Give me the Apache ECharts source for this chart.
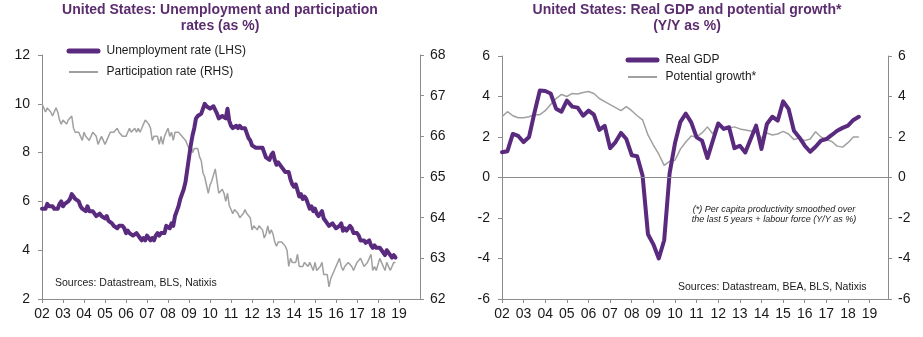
<!DOCTYPE html>
<html><head><meta charset="utf-8">
<script src="https://cdn.jsdelivr.net/npm/echarts@6/dist/echarts.min.js"></script>
<style>html,body{margin:0;padding:0;background:#fff}#c{width:923px;height:337px}</style>
</head><body><div id="c"></div>
<script>
const startYear = 2002;
const yearLabels = ['02','03','04','05','06','07','08','09','10','11','12','13','14','15','16','17','18','19'];

// Monthly, from Jan 2002
const unemployment = [
5.7,5.7,5.7,5.9,5.8,5.8,5.8,5.7,5.7,5.7,5.9,6.0,
5.8,5.9,5.9,6.0,6.1,6.3,6.2,6.1,6.1,6.0,5.8,5.7,
5.7,5.6,5.8,5.6,5.6,5.6,5.5,5.4,5.4,5.5,5.4,5.4,
5.3,5.4,5.2,5.2,5.1,5.0,5.0,4.9,5.0,5.0,5.0,4.9,
4.7,4.8,4.7,4.7,4.6,4.6,4.7,4.7,4.5,4.4,4.5,4.4,
4.6,4.5,4.4,4.5,4.4,4.6,4.7,4.6,4.7,4.7,4.7,5.0,
5.0,4.9,5.1,5.0,5.4,5.6,5.8,6.1,6.1,6.5,6.8,7.3,
7.8,8.3,8.7,9.0,9.4,9.5,9.5,9.6,9.8,10.0,9.9,9.9,
9.8,9.8,9.9,9.9,9.6,9.4,9.4,9.5,9.5,9.4,9.8,9.3,
9.1,9.0,9.0,9.1,9.0,9.1,9.0,9.0,9.0,8.8,8.6,8.5,
8.3,8.3,8.2,8.2,8.2,8.2,8.2,8.0,7.8,7.8,7.7,7.9,
8.0,7.7,7.5,7.6,7.5,7.5,7.3,7.2,7.2,7.2,6.9,6.7,
6.6,6.7,6.7,6.2,6.3,6.1,6.2,6.1,5.9,5.7,5.8,5.6,
5.7,5.5,5.4,5.4,5.6,5.3,5.2,5.1,5.0,5.0,5.1,5.0,
4.9,4.9,5.0,5.1,4.8,4.9,4.8,4.9,5.0,4.9,4.7,4.7,
4.7,4.6,4.4,4.4,4.4,4.3,4.3,4.4,4.2,4.1,4.2,4.1,
4.1,4.1,4.0,4.0,3.8,4.0,3.9,3.8,3.7,3.8,3.7
];
const participation = [
66.8,66.8,66.6,66.7,66.7,66.6,66.5,66.6,66.7,66.6,66.4,66.3,
66.4,66.4,66.3,66.4,66.4,66.5,66.2,66.1,66.1,66.1,66.1,65.9,
66.1,66.0,66.0,65.9,65.9,66.1,66.1,66.0,65.8,65.9,66.0,65.9,
65.8,65.9,65.9,66.1,66.1,66.1,66.1,66.2,66.1,66.1,66.0,66.0,
66.0,66.1,66.2,66.1,66.1,66.2,66.1,66.2,66.1,66.2,66.3,66.4,
66.4,66.3,66.2,65.9,66.0,66.0,66.0,65.8,66.0,65.8,66.0,66.0,
66.2,66.0,66.1,65.9,66.1,66.1,66.1,66.1,66.0,66.0,65.9,65.8,
65.7,65.8,65.6,65.7,65.7,65.7,65.5,65.4,65.1,65.0,65.0,64.6,
64.8,64.9,64.9,65.2,64.9,64.6,64.6,64.7,64.6,64.4,64.6,64.3,
64.2,64.1,64.2,64.2,64.1,64.0,64.0,64.1,64.2,64.1,64.1,64.0,
63.7,63.8,63.8,63.7,63.8,63.8,63.7,63.5,63.6,63.8,63.6,63.7,
63.6,63.4,63.3,63.4,63.4,63.4,63.4,63.3,63.2,62.8,63.0,62.9,
62.9,62.9,63.1,62.8,62.8,62.8,62.9,62.9,62.8,62.9,62.8,62.7,
62.9,62.7,62.7,62.8,62.9,62.6,62.6,62.6,62.3,62.5,62.5,62.7,
62.7,62.9,63.0,62.8,62.7,62.8,62.8,62.9,62.9,62.8,62.7,62.7,
62.9,62.9,63.0,62.9,62.8,62.8,62.9,62.9,63.1,62.7,62.8,62.7,
62.7,63.0,62.9,62.8,62.7,62.9,62.9,62.7,62.7,62.9,62.9
];

// Quarterly, from 2002Q1
const realGDP = [
1.25,1.3,2.15,2.05,
1.75,2.0,3.2,4.3,
4.27,4.15,3.4,3.25,
3.8,3.5,3.45,3.05,
3.3,3.1,2.35,2.55,
1.45,1.75,2.2,1.9,
1.1,1.05,0.1,-2.8,
-3.3,-4.0,-3.1,0.2,
1.7,2.75,3.15,2.72,
1.98,1.82,0.96,1.82,
2.67,2.40,2.48,1.45,
1.57,1.24,1.9,2.56,
1.41,2.64,3.0,2.81,
3.76,3.39,2.31,1.98,
1.57,1.27,1.52,1.82,
1.90,2.10,2.31,2.45,
2.56,2.84,3.0
];
const potentialGrowth = [
3.0,3.25,3.05,2.95,
2.95,3.0,3.1,3.1,
3.3,3.6,3.9,4.1,
4.0,4.15,4.12,4.2,
4.25,4.15,3.9,3.75,
3.6,3.45,3.3,3.5,
3.3,3.05,2.85,2.1,
1.6,1.15,0.6,0.8,
0.85,1.4,1.75,2.05,
2.0,2.2,2.5,2.15,
2.7,2.45,2.45,2.5,
2.4,2.35,2.3,2.25,
1.95,2.2,2.1,2.15,
2.28,2.15,1.87,1.95,
1.82,1.9,2.26,2.0,
1.87,1.78,1.55,1.5,
1.72,2.0,2.0
];

const monthly = arr => arr.map((v, i) => [startYear + i / 12, v]);
const quarterly = arr => arr.map((v, i) => [startYear + i / 4, v]);

const FONT = 'Liberation Sans, Arial, sans-serif';
const PURPLE = '#5a2a7f';
const GRAY = '#a0a0a0';
const AXIS = '#8c8c8c';
const TITLE = '#5b2d6e';

function xAxis(gridIndex, max) {
  return {
    type: 'value', gridIndex, min: startYear, max, interval: 1,
    axisLine: { show: true, onZero: false, lineStyle: { color: AXIS, width: 1 } },
    axisTick: { show: true, length: 4, inside: false, lineStyle: { color: AXIS } },
    splitLine: { show: false },
    axisLabel: {
      show: true, margin: 8, color: '#1a1a1a', fontSize: 14, fontFamily: FONT,
      showMaxLabel: false,
      formatter: v => { const k = Math.round(v - startYear); return (Math.abs(v - startYear - k) < 1e-6 && yearLabels[k]) ? yearLabels[k] : ''; }
    }
  };
}
function yAxis(gridIndex, position, min, max, interval, margin) {
  return {
    type: 'value', gridIndex, position, min, max, interval,
    axisLine: { show: true, onZero: false, lineStyle: { color: AXIS, width: 1 } },
    axisTick: { show: true, length: 4, inside: false, lineStyle: { color: AXIS } },
    splitLine: { show: false },
    axisLabel: { show: true, margin, color: '#1a1a1a', fontSize: 14, fontFamily: FONT }
  };
}

function legendItem(x, y, color, width, label) {
  return [
    { type: 'line', shape: { x1: x + 2.5, y1: y, x2: x + 31.5, y2: y }, style: { stroke: color, lineWidth: width, lineCap: width > 3 ? 'round' : 'butt' } },
    { type: 'text', x: x + 40, y: y, style: { text: label, align: 'left', verticalAlign: 'middle', fill: '#1a1a1a', font: '12px ' + FONT } }
  ];
}

const chart = echarts.init(document.getElementById('c'), null, { renderer: 'canvas' });
chart.setOption({
  animation: false,
  backgroundColor: '#ffffff',
  grid: [
    { left: 42, top: 55, width: 378, height: 244, containLabel: false, outerBoundsMode: 'none' },
    { left: 502, top: 56, width: 386, height: 243, containLabel: false, outerBoundsMode: 'none' }
  ],
  xAxis: [xAxis(0, 2020), xAxis(1, 2019.85)],
  yAxis: [
    yAxis(0, 'left', 2, 12, 2, 12),
    yAxis(0, 'right', 62, 68, 1, 10),
    yAxis(1, 'left', -6, 6, 2, 12),
    yAxis(1, 'right', -6, 6, 2, 10)
  ],
  series: [
    {
      name: 'Participation rate (RHS)', type: 'line', xAxisIndex: 0, yAxisIndex: 1,
      data: monthly(participation), symbol: 'none', showSymbol: false, z: 2,
      lineStyle: { color: GRAY, width: 1.5 }, itemStyle: { color: GRAY }
    },
    {
      name: 'Unemployment rate (LHS)', type: 'line', xAxisIndex: 0, yAxisIndex: 0,
      data: monthly(unemployment), symbol: 'none', showSymbol: false, z: 3,
      lineStyle: { color: PURPLE, width: 4, join: 'round', cap: 'round' }, itemStyle: { color: PURPLE }
    },
    {
      name: 'Potential growth*', type: 'line', xAxisIndex: 1, yAxisIndex: 2,
      data: quarterly(potentialGrowth), symbol: 'none', showSymbol: false, z: 2,
      lineStyle: { color: GRAY, width: 1.5 }, itemStyle: { color: GRAY },
      markLine: {
        silent: true, symbol: ['none', 'none'], label: { show: false },
        lineStyle: { color: AXIS, width: 1, type: 'solid' },
        data: [{ yAxis: 0 }]
      }
    },
    {
      name: 'Real GDP', type: 'line', xAxisIndex: 1, yAxisIndex: 2,
      data: quarterly(realGDP), symbol: 'none', showSymbol: false, z: 3,
      lineStyle: { color: PURPLE, width: 4, join: 'round', cap: 'round' }, itemStyle: { color: PURPLE }
    }
  ],
  graphic: [
    { type: 'text', x: 220, y: 2, style: { text: 'United States: Unemployment and participation\nrates (as %)', align: 'center', verticalAlign: 'top', fill: TITLE, font: 'bold 14px ' + FONT, lineHeight: 16 } },
    { type: 'text', x: 687, y: 2, style: { text: 'United States: Real GDP and potential growth*\n(Y/Y as %)', align: 'center', verticalAlign: 'top', fill: TITLE, font: 'bold 14px ' + FONT, lineHeight: 16 } },
    ...legendItem(66.5, 51, PURPLE, 5, 'Unemployment rate (LHS)'),
    ...legendItem(66.5, 72, GRAY, 2, 'Participation rate (RHS)'),
    ...legendItem(625.5, 60, PURPLE, 5, 'Real GDP'),
    ...legendItem(625.5, 77, GRAY, 2, 'Potential growth*'),
    { type: 'text', x: 55, y: 283, style: { text: 'Sources: Datastream, BLS, Natixis', align: 'left', verticalAlign: 'middle', fill: '#1a1a1a', font: '10.5px ' + FONT } },
    { type: 'text', x: 678, y: 287, style: { text: 'Sources: Datastream, BEA, BLS, Natixis', align: 'left', verticalAlign: 'middle', fill: '#1a1a1a', font: '10.5px ' + FONT } },
    { type: 'text', x: 774, y: 204, style: { text: '(*) Per capita productivity smoothed over\nthe last 5 years + labour force (Y/Y as %)', align: 'center', verticalAlign: 'top', fill: '#1a1a1a', font: 'italic 9px ' + FONT, lineHeight: 10 } }
  ]
});
</script>
</body></html>
